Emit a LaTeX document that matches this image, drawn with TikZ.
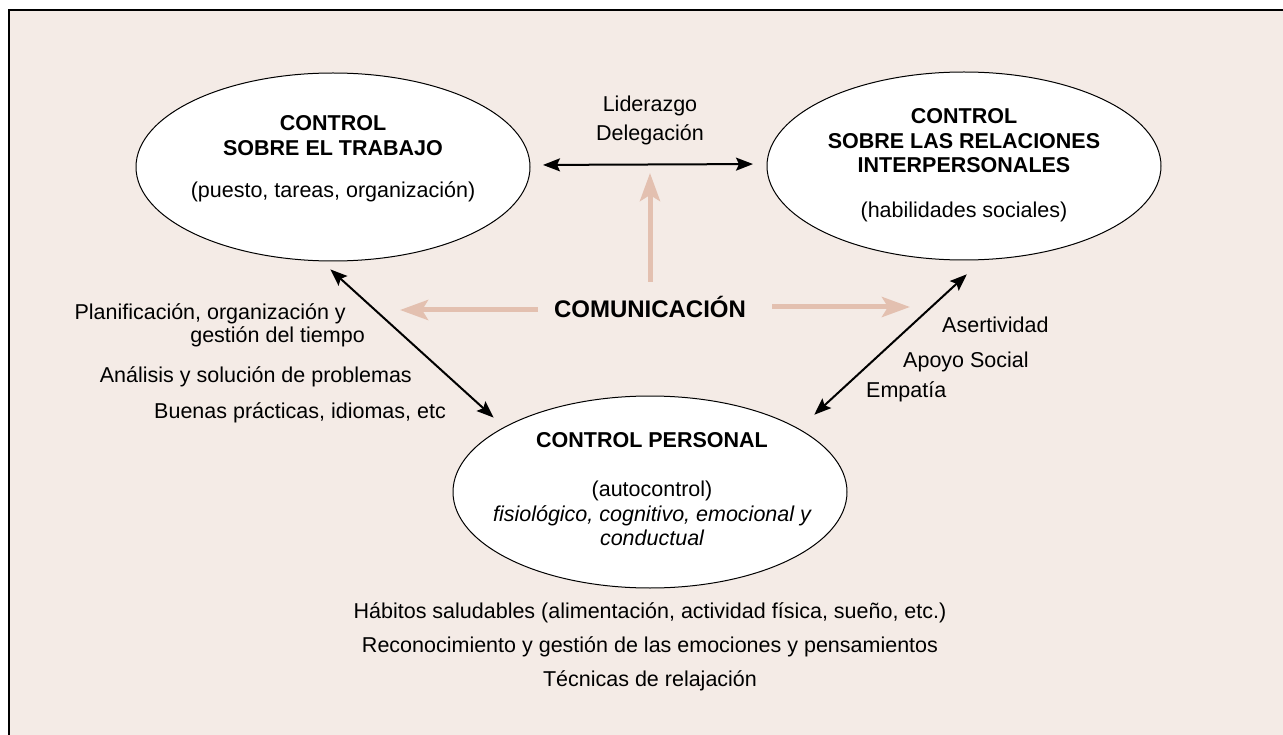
\documentclass[tikz,border=0pt]{standalone}
\usepackage{fontspec}
\setmainfont{Liberation Sans}
\usetikzlibrary{shapes.geometric,arrows.meta}
\definecolor{bgc}{HTML}{F4EBE6}
\definecolor{pk}{HTML}{E3C0B0}
\begin{document}
\begin{tikzpicture}[x=1pt,y=-1pt,
  ell/.style={ellipse,draw,line width=1pt,fill=white,inner sep=0pt,minimum width=394pt,minimum height=188pt},
  txt/.style={inner sep=0pt,anchor=base,font=\fontsize{21.5}{25}\selectfont},
  btxt/.style={txt,font=\fontsize{21.5}{25}\selectfont\bfseries},
  itxt/.style={txt,font=\fontsize{21.5}{25}\selectfont\itshape},
  rtxt/.style={txt,anchor=base east},
  ltxt/.style={txt,anchor=base west},
  blk/.style={line width=2pt,{Stealth[length=17pt,width=13pt,inset=3pt]}-{Stealth[length=17pt,width=13pt,inset=3pt]}},
  pka/.style={line width=5pt,draw=pk,-{Stealth[length=28pt,width=20pt,inset=6pt]}}
]
\useasboundingbox (0,0) rectangle (1283,735);
\clip (0,0) rectangle (1283,735);
\draw[line width=1.6pt, fill=bgc] (9,10) rectangle (1310,770);

% ellipses
\node[ell] (trabajo) at (333,167) {};
\node[ell] (relaciones) at (964,166) {};
\node[ell,minimum height=192pt] (personal) at (650,492) {};

% central label
\node[inner sep=0pt, text height=16pt, text depth=0pt, font=\fontsize{24}{28}\selectfont\bfseries] (com) at (650,310) {COMUNICACIÓN};

% pink arrows
\coordinate (pu) at (650,173);
\coordinate (pl) at (400,310);
\coordinate (pr) at (910,307);
\draw[pka] ([yshift=20pt]com.north) -- (pu);
\draw[pka] ([xshift=-16pt]com.west) -- (pl);
\draw[pka] ([xshift=26pt,yshift=3pt]com.east) -- (pr);

% black arrows
\draw[blk, shorten <=12.5pt, shorten >=13.5pt] ([yshift=2pt]trabajo.east) -- ([yshift=2pt]relaciones.west);
\draw[blk, shorten <=12pt, shorten >=14pt] (trabajo.-97) -- (personal.156);
\draw[blk, shorten <=21pt, shorten >=20.6pt] (relaciones.-79.5) -- (personal.23.5);

% ellipse texts
\node[btxt] (a1) at (333,131) {CONTROL};
\node[btxt] (a2) at (333,156) {SOBRE EL TRABAJO};
\node[txt]  (a3) at (333,198) {(puesto, tareas, organización)};

\node[btxt] (b1) at (964,124) {CONTROL};
\node[btxt] (b2) at (964,149) {SOBRE LAS RELACIONES};
\node[btxt] (b3) at (964,173) {INTERPERSONALES};
\node[txt]  (b4) at (964,218) {(habilidades sociales)};

\node[btxt] (c1) at (652,447) {CONTROL PERSONAL};
\node[txt]  (c2) at (652,496) {(autocontrol)};
\node[itxt] (c3) at (652,521) {fisiológico, cognitivo, emocional y};
\node[itxt] (c4) at (652,545) {conductual};

% arrow labels
\node[txt] (l1) at (650,112) {Liderazgo};
\node[txt] (l2) at (650,141) {Delegación};

\node[rtxt] (p1) at (346,320) {Planificación, organización y};
\node[rtxt] (p2) at (365,343) {gestión del tiempo};
\node[rtxt] (p3) at (412,382) {Análisis y solución de problemas};
\node[rtxt] (p4) at (446,418) {Buenas prácticas, idiomas, etc};

\node[ltxt] (r1) at (942,333) {Asertividad};
\node[ltxt] (r2) at (903,368) {Apoyo Social};
\node[ltxt] (r3) at (866,398) {Empatía};

\node[txt] (h1) at (650,618) {Hábitos saludables (alimentación, actividad física, sueño, etc.)};
\node[txt] (h2) at (650,652) {Reconocimiento y gestión de las emociones y pensamientos};
\node[txt] (h3) at (650,686) {Técnicas de relajación};
\end{tikzpicture}
\end{document}
